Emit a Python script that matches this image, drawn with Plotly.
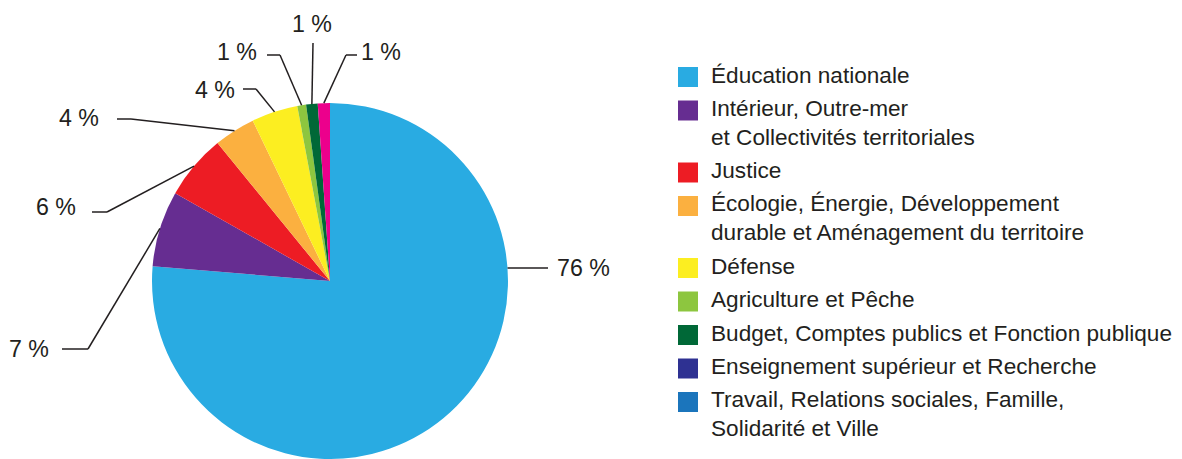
import math
import plotly.graph_objects as go

# ---------------- data ----------------
categories = [
    "Éducation nationale",
    "Intérieur, Outre-mer<br>et Collectivités territoriales",
    "Justice",
    "Écologie, Énergie, Développement<br>durable et Aménagement du territoire",
    "Défense",
    "Agriculture et Pêche",
    "Budget, Comptes publics et Fonction publique",
    "Enseignement supérieur et Recherche",
    "Travail, Relations sociales, Famille,<br>Solidarité et Ville",
    "Autres",
]
shares = [76.4, 6.9, 5.9, 3.75, 4.2, 0.8, 1.05, 0.0, 0.0, 1.1]
in_legend = [True, True, True, True, True, True, True, True, True, False]

# ---------------- style ----------------
colors = ["#29abe2", "#662d91", "#ed1c24", "#fbb040", "#fcee21",
          "#8dc63f", "#006837", "#2e3192", "#1b75bc", "#ec008c"]
VW, VH = 1182, 459          # browser viewport
OFF = 8                     # default page margin of the html body
W, H = VW - OFF, VH - OFF   # figure size
CX, CY, R = 330, 281, 178   # pie centre / radius in viewport pixels
TXT = "#231f20"
FONT = "Liberation Sans, Arial, Helvetica, sans-serif"
FS = 22.6
FS_LBL = 23.2

# label placement (style) for the visible slices, in slice order (viewport px)
label_style = [
    dict(tx=555, ty=268, anchor="left", x0=548, xe=548, ly=268, horiz=True),
    dict(tx=51, ty=349, anchor="right", x0=62, xe=88, ly=349),
    dict(tx=78, ty=207, anchor="right", x0=92, xe=107, ly=212),
    dict(tx=101, ty=118, anchor="right", x0=117, xe=131, ly=119),
    dict(tx=237, ty=90, anchor="right", x0=243, xe=256, ly=89),
    dict(tx=259, ty=52, anchor="right", x0=267, xe=280, ly=55),
    dict(tx=312, ty=24, anchor="center", x0=313, xe=313, ly=43),
    dict(tx=359, ty=52, anchor="left", x0=357, xe=346, ly=55),
]


def px(x):
    return (x - OFF) / W


def py(y):
    return 1 - (y - OFF) / H


fig = go.Figure()
fig.add_trace(go.Pie(
    labels=categories,
    values=shares,
    sort=False,
    direction="clockwise",
    rotation=0,
    marker=dict(colors=colors, line=dict(width=0)),
    textinfo="none",
    hoverinfo="label+percent",
    showlegend=False,
    domain=dict(x=[px(CX - R), px(CX + R)],
                y=[max(0, py(CY + R)), py(CY - R)]),
))

shapes = []
annotations = []

# leader lines + percentage labels, computed from the cumulative shares
total = sum(shares)
cum = 0.0
li = 0
for v in shares:
    start = cum
    cum += v
    if v <= 0:
        continue
    st = label_style[li]
    li += 1
    mid = (start + v / 2) / total * 2 * math.pi
    if st.get("horiz"):
        dy = st["ly"] - CY
        ex = CX + math.sqrt(R * R - dy * dy)
        ey = st["ly"]
    else:
        ex = CX + R * math.sin(mid)
        ey = CY - R * math.cos(mid)
    line = dict(color=TXT, width=1.5)
    if st["x0"] != st["xe"]:
        shapes.append(dict(type="line", xref="paper", yref="paper",
                           x0=px(st["x0"]), y0=py(st["ly"]),
                           x1=px(st["xe"]), y1=py(st["ly"]), line=line))
    shapes.append(dict(type="line", xref="paper", yref="paper",
                       x0=px(st["xe"]), y0=py(st["ly"]),
                       x1=px(ex), y1=py(ey), line=line))
    annotations.append(dict(
        x=px(st["tx"]), y=py(st["ty"]), xref="paper", yref="paper",
        xanchor=st["anchor"], yanchor="middle", showarrow=False,
        text=f"{round(v / total * 100)} %",
        font=dict(family=FONT, size=FS_LBL, color=TXT),
    ))

# custom legend
LX_SW, LX_TXT = 678, 709
y = 75.0
STEP, LINE_H = 33.5, 28.5
for cat, col, show in zip(categories, colors, in_legend):
    if not show:
        continue
    n = cat.count("<br>") + 1
    shapes.append(dict(type="rect", xref="paper", yref="paper",
                       x0=px(LX_SW), x1=px(LX_SW + 20),
                       y0=py(y + 2 - 10), y1=py(y + 2 + 10),
                       fillcolor=col, line=dict(width=0)))
    annotations.append(dict(
        x=px(LX_TXT), y=py(y + (n - 1) * LINE_H / 2), xref="paper", yref="paper",
        xanchor="left", yanchor="middle", align="left", showarrow=False,
        text=cat, font=dict(family=FONT, size=FS, color=TXT),
    ))
    y += STEP + (n - 1) * LINE_H

fig.update_layout(
    width=W, height=H,
    margin=dict(l=0, r=0, t=0, b=0),
    paper_bgcolor="white", plot_bgcolor="white",
    shapes=shapes, annotations=annotations,
)

fig.write_html("out.html")
